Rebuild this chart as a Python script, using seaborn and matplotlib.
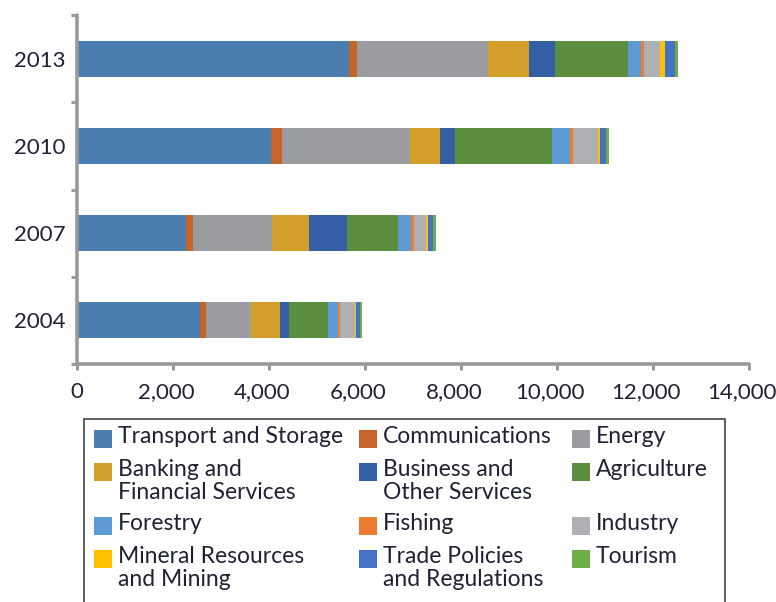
import numpy as np
import pandas as pd
import matplotlib
matplotlib.use("Agg")
import matplotlib.pyplot as plt
import matplotlib.transforms as mtransforms
import seaborn as sns
from matplotlib.patches import Rectangle

years = ["2013", "2010", "2007", "2004"]
sectors = ["Transport and Storage", "Communications", "Energy",
           "Banking and\nFinancial Services", "Business and\nOther Services", "Agriculture",
           "Forestry", "Fishing", "Industry",
           "Mineral Resources\nand Mining", "Trade Policies\nand Regulations", "Tourism"]
transport   = [5660, 4050, 2280, 2560]
communic    = [170, 215, 137, 137]
energy      = [2735, 2665, 1640, 925]
banking     = [855, 640, 780, 605]
business    = [545, 310, 795, 180]
agriculture = [1505, 2015, 1060, 820]
forestry    = [275, 375, 265, 215]
fishing     = [60, 70, 70, 35]
industry    = [340, 515, 250, 325]
mineral     = [110, 35, 35, 17]
trade       = [195, 135, 95, 68]
tourism     = [77, 60, 68, 50]
series = [transport, communic, energy, banking, business, agriculture,
          forestry, fishing, industry, mineral, trade, tourism]
colors = ["#4A7EB0", "#C5652A", "#9B9C9F", "#D29F2B", "#355FA4", "#5B8E3F",
          "#5F9BD3", "#ED7D31", "#AFB0B3", "#FFC000", "#4472C4", "#70AD47"]
xticks = [0, 2000, 4000, 6000, 8000, 10000, 12000, 14000]

sns.set_theme(style="white")
plt.rcParams['font.family'] = ['Lato', 'DejaVu Sans']
txt = "#1F2233"
gray = "#9A9A9A"

fig = plt.figure(figsize=(7.76, 6.02), dpi=100)
ax = fig.add_axes([77/776, 1-364/602, (749-77)/776, (364-15)/602])

cum = np.cumsum(np.array(series), axis=0)
for i in range(len(series) - 1, -1, -1):
    df = pd.DataFrame({"year": years, "value": cum[i]})
    sns.barplot(data=df, x="value", y="year", order=years, orient="h",
                color=colors[i], saturation=1, width=0.41, ax=ax, linewidth=0)

ax.set_xlim(0, 14000)
ax.set_ylim(3.5, -0.5)
ax.set_xticks(xticks)
ax.set_xticklabels([f"{v:,}" for v in xticks], fontsize=16, color=txt)
ax.set_yticks(range(len(years)))
ax.set_yticklabels(years, fontsize=16, color=txt)
ax.set_xlabel("")
ax.set_ylabel("")
for s in ["top", "right"]:
    ax.spines[s].set_visible(False)
for s in ["left", "bottom"]:
    ax.spines[s].set_color(gray)
    ax.spines[s].set_linewidth(2.6)
    ax.spines[s].set_capstyle("round")
ax.tick_params(axis="x", bottom=True, length=4, width=2.2, color=gray, pad=9)
ax.tick_params(axis="y", left=False, length=0, pad=8)
ax.set_yticks([-0.5, 0.5, 1.5, 2.5, 3.5], minor=True)
ax.tick_params(axis="y", which="minor", left=True, length=4, width=2.2, color=gray)
shift = mtransforms.ScaledTranslation(-7/100, 0, fig.dpi_scale_trans)
for lbl in ax.get_xticklabels()[1:]:
    lbl.set_transform(lbl.get_transform() + shift)

# legend box
fig.add_artist(Rectangle((84/776, -0.01), (725-84)/776, 1.01-(419/602),
                         transform=fig.transFigure, fill=False, edgecolor="#444444", linewidth=1.2))
col_x = [94, 359, 572]
row_y = [430, 463, 517, 550]
for k, lab in enumerate(sectors):
    r, c = divmod(k, 3)
    x0, y0 = col_x[c], row_y[r]
    fig.add_artist(Rectangle((x0/776, 1-(y0+18)/602), 18/776, 18/602,
                             transform=fig.transFigure, color=colors[k], linewidth=0))
    fig.text((x0+24)/776, 1-(y0-4)/602, lab, fontsize=16.5, color=txt,
             va="top", ha="left", linespacing=1.12)

fig.savefig("out.png", dpi=100)
